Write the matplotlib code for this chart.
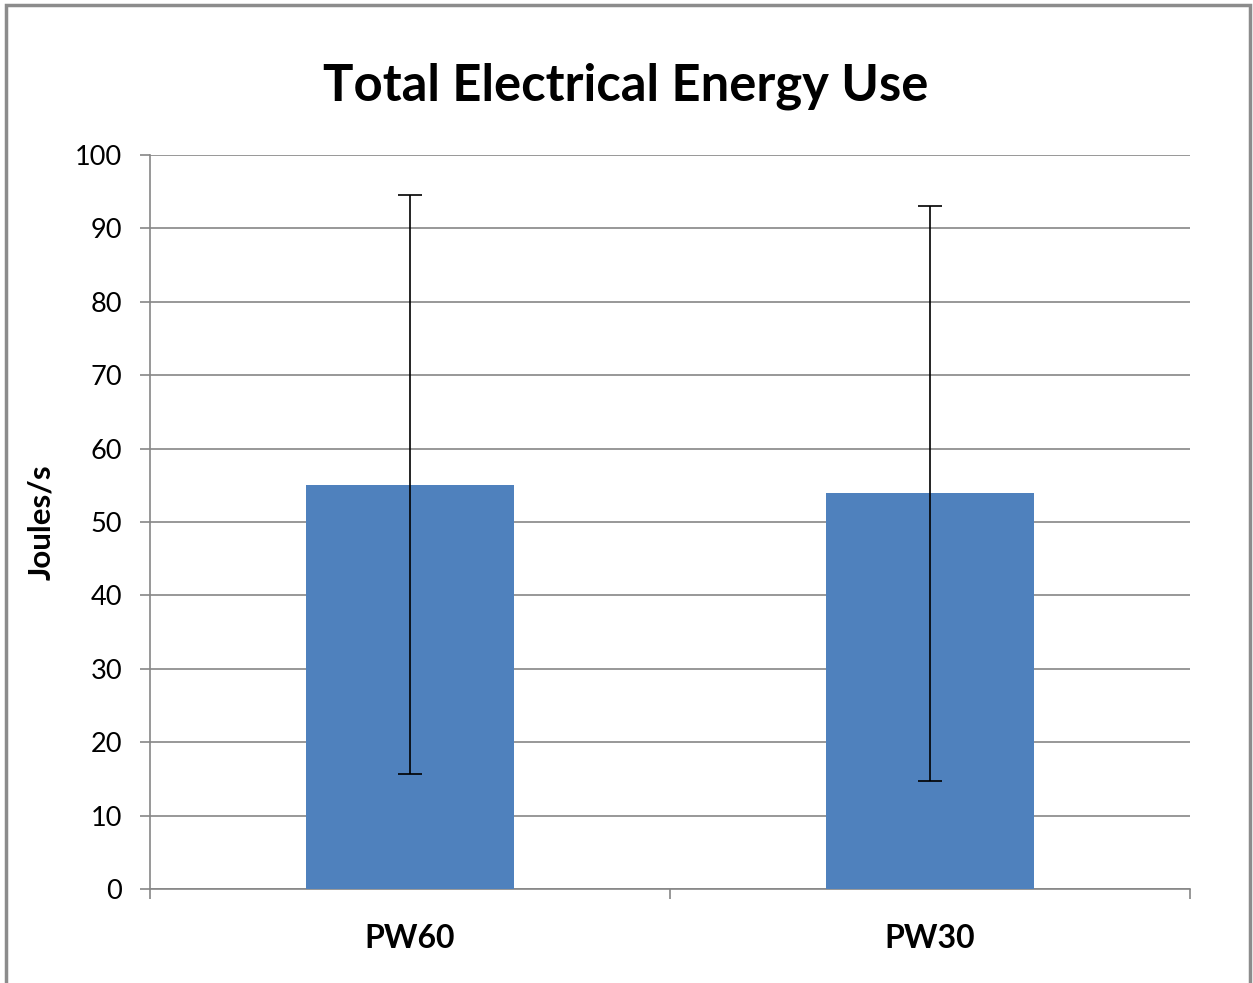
import matplotlib
matplotlib.use("Agg")
import matplotlib.pyplot as plt
from matplotlib.patches import Rectangle

categories = ["PW60", "PW30"]
values = [55.1, 53.9]
errors = [39.4, 39.2]
yticks = [0, 10, 20, 30, 40, 50, 60, 70, 80, 90, 100]

plt.rcParams['font.family'] = ['Lato', 'DejaVu Sans']

W, H = 1253, 983
fig = plt.figure(figsize=(W/100, H/100), dpi=100)
ax = fig.add_axes([150/W, 1-889/H, (1190-150)/W, (889-155)/H])

grid_c = "#868686"
x = list(range(len(categories)))
ax.bar(x, values, width=0.4, color="#4F81BD", zorder=3)
ax.errorbar(x, values, yerr=errors, fmt='none', ecolor='black', elinewidth=1.2,
            capsize=8.5, capthick=1.2, zorder=4)

ax.set_xlim(-0.5, len(categories)-0.5)
ax.set_ylim(0, 100)
ax.set_yticks(yticks)
ax.set_yticklabels([str(t) for t in yticks], fontsize=19.5)
ax.yaxis.grid(True, color=grid_c, linewidth=1.2, zorder=0)
ax.set_axisbelow(True)

ax.set_xticks([i-0.5 for i in range(len(categories)+1)])
ax.set_xticklabels([])
ax.set_xticks(x, minor=True)
ax.set_xticklabels(categories, minor=True, fontsize=23, fontweight='bold')
ax.tick_params(axis='x', which='minor', length=0, pad=25)
ax.tick_params(axis='x', which='major', length=7, color=grid_c, width=1.2)
ax.tick_params(axis='y', length=7, color=grid_c, width=1.2, pad=13)

for s in ['top', 'right']:
    ax.spines[s].set_visible(False)
for s in ['left', 'bottom']:
    ax.spines[s].set_color(grid_c)
    ax.spines[s].set_linewidth(1.2)

ax.set_ylabel("Joules/s", fontsize=22.5, fontweight='bold', labelpad=14)
fig.text(626/W, 1-86/H, "Total Electrical Energy Use", ha='center', va='center',
         fontsize=36.5, fontweight='bold')

fig.patches.append(Rectangle((6/W, -0.05), (1250-6)/W, 1-5/H+0.05, transform=fig.transFigure,
                             fill=False, edgecolor="#8c8c8c", linewidth=2.5))

fig.savefig("out.png", dpi=100)
